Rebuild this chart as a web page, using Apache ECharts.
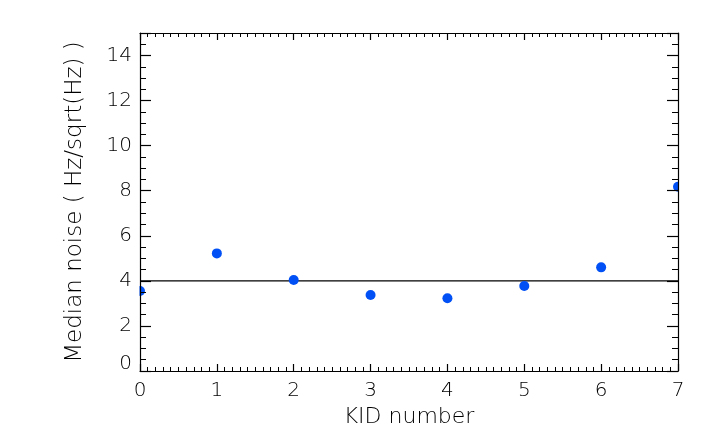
<!DOCTYPE html>
<html>
<head>
<meta charset="utf-8">
<script src="https://cdn.jsdelivr.net/npm/echarts@6/dist/echarts.min.js"></script>
<style>html,body{margin:0;padding:0;background:#fff;}#c{width:720px;height:439px;}</style>
</head>
<body>
<div id="c"></div>
<script>
const kidNumbers = [0, 1, 2, 3, 4, 5, 6, 7];
const medianNoise = [3.55, 5.22, 4.04, 3.37, 3.23, 3.77, 4.6, 8.18];
const referenceLevel = 4;
const xTitle = 'KID number';
const yTitle = 'Median noise ( Hz/sqrt(Hz) )';

const FONT = 'DejaVu Sans';
const chart = echarts.init(document.getElementById('c'), null, {renderer: 'canvas'});
const gridL = 140, gridR = 42, gridT = 33, gridB = 68;
const lineStyle = {color: '#000', width: 1.2};
const labelFont = {fontFamily: FONT, fontWeight: 200, fontSize: 20, color: '#000'};
function xa(pos, show) {
  return {
    type: 'value', position: pos, min: 0, max: 7, interval: 1, z: 10,
    name: show ? xTitle : '', nameLocation: 'middle', nameGap: 30,
    nameTextStyle: {fontFamily: FONT, fontWeight: 200, fontSize: 22, color: '#000'},
    axisLine: {show: true, onZero: false, lineStyle: lineStyle},
    axisTick: {show: true, inside: true, length: 7, lineStyle: lineStyle},
    minorTick: {show: true, splitNumber: 10, length: 4, lineStyle: {color: '#000', width: 1}},
    axisLabel: Object.assign({show: show, margin: 10}, labelFont),
    splitLine: {show: false}
  };
}
function ya(pos, show) {
  return {
    type: 'value', position: pos, min: 0, max: 15, interval: 2, z: 10,
    name: show ? yTitle : '', nameLocation: 'middle', nameGap: 53, nameRotate: 90,
    nameTextStyle: {fontFamily: FONT, fontWeight: 200, fontSize: 23, color: '#000'},
    axisLine: {show: true, onZero: false, lineStyle: lineStyle},
    axisTick: {show: true, inside: true, length: 11, lineStyle: lineStyle},
    minorTick: {show: true, splitNumber: 4, length: 6, lineStyle: {color: '#000', width: 1}},
    axisLabel: Object.assign({show: show, margin: 8, showMaxLabel: false,
      formatter: v => (v === 0 ? '{z|' + v + '}' : String(v)),
      rich: {z: Object.assign({padding: [0, 0, 15, 0]}, labelFont)}}, labelFont),
    splitLine: {show: false}
  };
}
chart.setOption({
  animation: false,
  backgroundColor: '#fff',
  grid: {left: gridL, right: gridR, top: gridT, bottom: gridB},
  xAxis: [xa('bottom', true), xa('top', false)],
  yAxis: [ya('left', true), ya('right', false)],
  graphic: [
    {type: 'rect', z: 5, shape: {x: 0, y: 0, width: gridL - 0.5, height: 439}, style: {fill: '#fff'}},
    {type: 'rect', z: 5, shape: {x: 720 - gridR + 0.5, y: 0, width: gridR, height: 439}, style: {fill: '#fff'}}
  ],
  series: [
    {
      type: 'line', z: 3, symbol: 'none', silent: true,
      data: [[kidNumbers[0], referenceLevel], [kidNumbers[kidNumbers.length - 1], referenceLevel]],
      lineStyle: {color: '#000', width: 1.2}
    },
    {
      type: 'scatter', z: 4, symbolSize: 10, clip: false,
      itemStyle: {color: '#0050f5', opacity: 1},
      data: kidNumbers.map((k, i) => [k, medianNoise[i]])
    }
  ]
});
</script>
</body>
</html>
